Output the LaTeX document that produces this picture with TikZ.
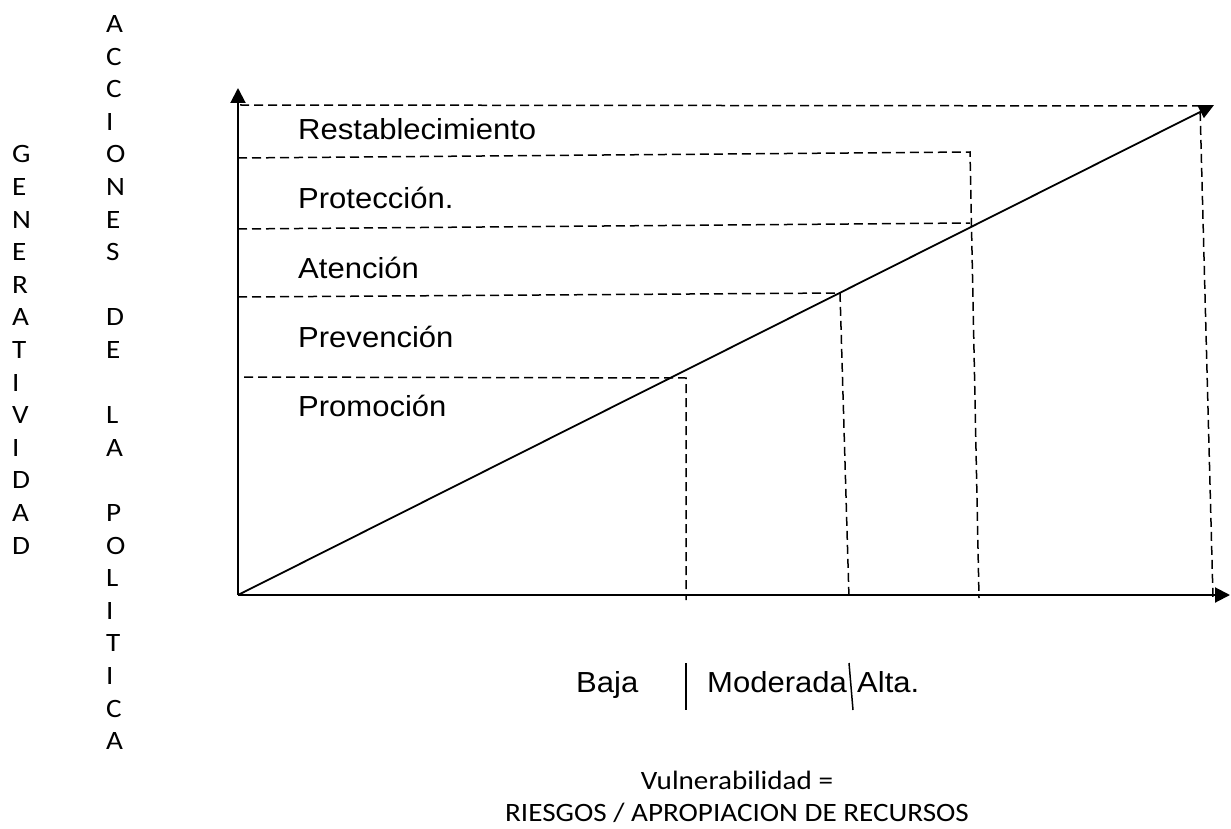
\documentclass[tikz,border=0pt]{standalone}
\usepackage{fontspec}
\usepackage{graphicx}
\usetikzlibrary{arrows.meta}
\newfontfamily\arialf{Liberation Sans}
\newfontfamily\calf{Carlito}
\newcommand\arialtxt[1]{\scalebox{1.07}[1]{\arialf\fontsize{29}{35}\selectfont #1}}
\newcommand\caltxt[1]{\scalebox{1.1}[1]{\calf\fontsize{26.5}{32}\selectfont #1}}
\tikzset{
  axisline/.style={line width=2pt,-{Triangle[length=15pt,width=15pt]}},
  guide/.style={line width=1.5pt,dash pattern=on 9pt off 5pt},
  barline/.style={line width=1.5pt},
  lbl/.style={anchor=base west,inner sep=0pt},
  lblc/.style={anchor=base,inner sep=0pt},
}
\begin{document}
\begin{tikzpicture}[x=1pt,y=-1pt]
\useasboundingbox (0,0) rectangle (1231,829);
\fill[white] (0,0) rectangle (1231,829);
% key points
\coordinate (O) at (238,595);
\coordinate (ytop) at (238,88);
\coordinate (xend) at (1230,595);
\coordinate (dend) at (1214,105);
% guide line points
\coordinate (h1a) at (240,105);  \coordinate (h1b) at (1200,106);
\coordinate (v4b) at (1213,598);
\coordinate (h2a) at (238,158);  \coordinate (h2b) at (970,152);
\coordinate (v3b) at (979,598);
\coordinate (h3a) at (238,229);  \coordinate (h3b) at (970,223);
\coordinate (h4a) at (238,297);  \coordinate (h4b) at (840,293);
\coordinate (v2b) at (849,598);
\coordinate (h5a) at (244,377);  \coordinate (h5b) at (686,378);
\coordinate (v1b) at (686,600);
% dashed guides
\draw[guide] (h1a) -- (h1b) -- (v4b);
\draw[guide] (h2a) -- (h2b) -- (v3b);
\draw[guide] (h3a) -- (h3b);
\draw[guide] (h4a) -- (h4b) -- (v2b);
\draw[guide] (h5a) -- (h5b) -- (v1b);
% axes and diagonal
\draw[axisline] (O) -- (ytop);
\draw[axisline] (O) -- (xend);
\draw[line width=1.8pt,-{Triangle[length=15pt,width=14pt]}] (O) -- (dend);
% band labels
\node[lbl] (rest) at (298,140) {\arialtxt{Restablecimiento}};
\node[lbl] (prot) at (298,209) {\arialtxt{Protección.}};
\node[lbl] (aten) at (298,278) {\arialtxt{Atención}};
\node[lbl] (prev) at (298,347) {\arialtxt{Prevención}};
\node[lbl] (prom) at (298,416) {\arialtxt{Promoción}};
% bottom scale labels
\node[lbl] (baja) at (576,692) {\arialtxt{Baja}};
\node[lbl] (mod) at (707,692) {\arialtxt{Moderada}};
\node[lbl] (alta) at (857,692) {\arialtxt{Alta.}};
\coordinate (b1a) at (686,663); \coordinate (b1b) at (686,710);
\coordinate (b2a) at (849,663); \coordinate (b2b) at (853,710);
\draw[barline] (b1a) -- (b1b);
\draw[barline] (b2a) -- (b2b);
% formula
\node[lblc] (vul) at (737,789) {\caltxt{Vulnerabilidad =}};
\node[lblc] (rie) at (737,821) {\caltxt{RIESGOS / APROPIACION DE RECURSOS}};
% vertical words
\foreach \r/\ch in {4/G,5/E,6/N,7/E,8/R,9/A,10/T,11/I,12/V,13/I,14/D,15/A,16/D}{
  \node[lbl] (ga\r) at (12,32.5+32.6*\r) {\caltxt{\ch}};
}
\foreach \r/\ch in {0/A,1/C,2/C,3/I,4/O,5/N,6/E,7/S,9/D,10/E,12/L,13/A,15/P,16/O,17/L,18/I,19/T,20/I,21/C,22/A}{
  \node[lbl] (ac\r) at (106,32.5+32.6*\r) {\caltxt{\ch}};
}
\end{tikzpicture}
\end{document}
